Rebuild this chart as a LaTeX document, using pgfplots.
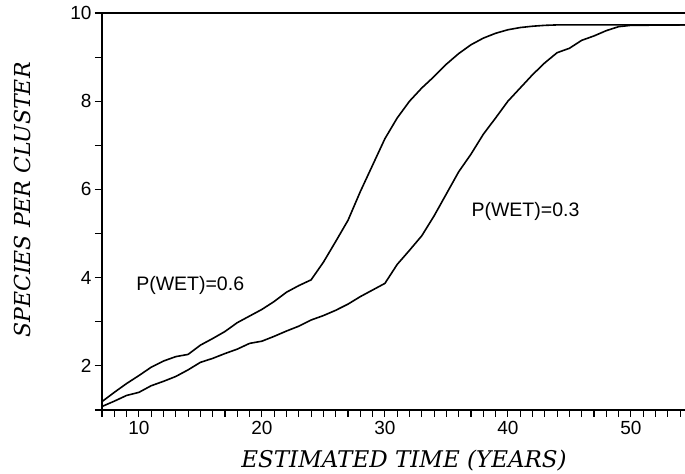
\documentclass[border=0pt]{standalone}
\usepackage{pgfplots}
\pgfplotsset{compat=1.18}
\usepackage{fontspec}
\setsansfont{Liberation Sans}
\newfontfamily\labelfont{DejaVu Serif}
\begin{document}
\begin{tikzpicture}
\begin{axis}[
  name=ax,
  scale only axis,
  width=583pt, height=397pt,
  xmin=7, xmax=54.4, ymin=1, ymax=10,
  axis lines=left,
  axis line style={-, line width=1.2pt},
  xtick={10,20,30,40,50},
  minor xtick={7,8,...,54},
  ytick={2,4,6,8,10},
  minor ytick={1,2,...,10},
  tick align=outside,
  major tick length=7pt,
  minor tick length=7pt,
  every tick/.style={black, line width=1.1pt},
  /pgf/number format/assume math mode=true,
  tick label style={font=\sffamily\fontsize{19}{21}\selectfont},
  xticklabel style={yshift=-1pt},
  xlabel={\itshape ESTIMATED TIME (YEARS)},
  ylabel={\itshape SPECIES PER CLUSTER},
  xlabel style={font=\labelfont\fontsize{23}{25}\selectfont, at={(axis description cs:0.518,-0.146)}, anchor=base},
  ylabel style={font=\labelfont\fontsize{22}{24}\selectfont, at={(axis description cs:-0.122,0.529)}, anchor=base},
  clip=false,
]
\draw[line width=1.2pt] (rel axis cs:0,1) -- (rel axis cs:1,1);
\addplot[black, line width=1.6pt] coordinates {
(7,1.19) (8,1.40) (9,1.60) (10,1.78) (11,1.97) (12,2.11) (13,2.21) (14,2.26)
(15,2.47) (16,2.62) (17,2.78) (18,2.98) (19,3.13) (20,3.28) (21,3.46) (22,3.67)
(23,3.82) (24,3.95) (25,4.35) (26,4.82) (27,5.30) (28,5.95) (29,6.55) (30,7.15)
(31,7.62) (32,8.00) (33,8.30) (34,8.56) (35,8.84) (36,9.08) (37,9.28) (38,9.43)
(39,9.54) (40,9.62) (41,9.67) (42,9.70) (43,9.72) (44,9.73) (54.4,9.73)
};
\addplot[black, line width=1.6pt] coordinates {
(7,1.08) (8,1.20) (9,1.33) (10,1.40) (11,1.55) (12,1.65) (13,1.76) (14,1.91)
(15,2.08) (16,2.17) (17,2.28) (18,2.38) (19,2.51) (20,2.56) (21,2.67) (22,2.79)
(23,2.90) (24,3.04) (25,3.14) (26,3.26) (27,3.40) (28,3.57) (29,3.72) (30,3.87)
(31,4.30) (32,4.62) (33,4.95) (34,5.40) (35,5.90) (36,6.40) (37,6.80) (38,7.25)
(39,7.62) (40,8.00) (41,8.30) (42,8.60) (43,8.87) (44,9.10) (45,9.20) (46,9.38)
(47,9.48) (48,9.60) (49,9.69) (50,9.72) (54.4,9.73)
};
\node[font=\sffamily\fontsize{19.5}{21}\selectfont] at (axis cs:14.17,3.83) {P(WET)=0.6};
\node[font=\sffamily\fontsize{19.5}{21}\selectfont] at (axis cs:41.43,5.50) {P(WET)=0.3};
\end{axis}
\pgfresetboundingbox
\path[use as bounding box] ([xshift=-102pt,yshift=-64pt]ax.south west) rectangle ([yshift=13pt]ax.north east);
\end{tikzpicture}
\end{document}
